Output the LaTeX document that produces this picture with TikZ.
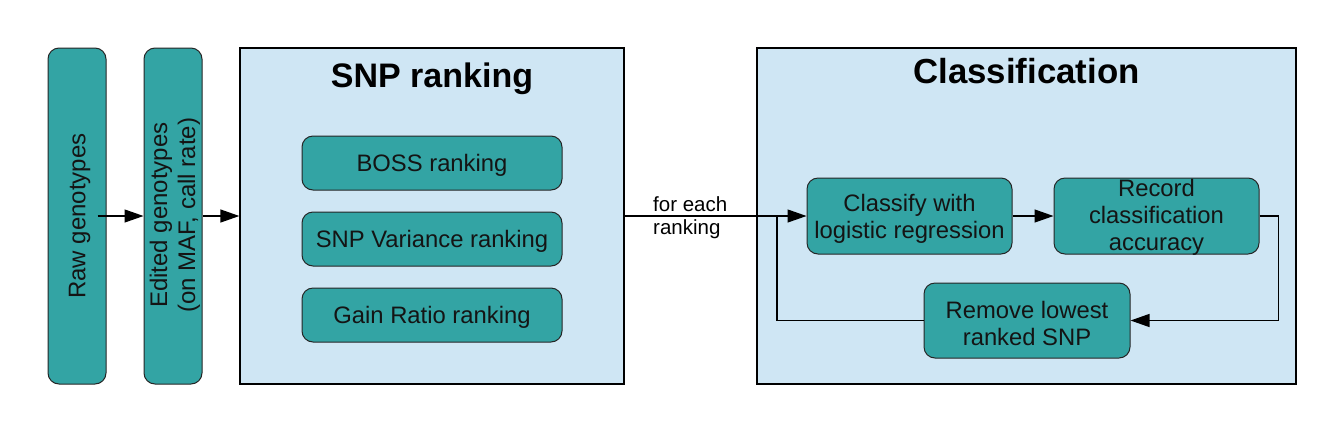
\documentclass[tikz,border=0pt]{standalone}
\usepackage{fontspec}
\setmainfont{Liberation Sans}
\usetikzlibrary{arrows.meta}
\definecolor{teal1}{RGB}{51,164,164}
\definecolor{lblue}{RGB}{207,230,244}
\definecolor{txt}{RGB}{20,20,20}
\tikzset{
  panel/.style={draw=black, line width=1.3pt, fill=lblue, rectangle, inner sep=0pt},
  tbox/.style={draw=black!85, line width=1pt, fill=teal1, rectangle, rounded corners=11pt, inner sep=0pt},
  btxt/.style={align=center, text=txt, inner sep=0pt, font=\fontsize{23.8}{27}\selectfont},
  bar/.style={tbox, minimum width=58pt, minimum height=336pt},
  title/.style={font=\fontsize{34}{40}\selectfont\bfseries, anchor=base},
  conn/.style={draw=black, line width=1.3pt, -{Triangle[length=19pt,width=13pt]}},
  plain/.style={draw=black, line width=1.3pt},
  lbl/.style={font=\fontsize{20.5}{22.5}\selectfont, align=left, anchor=north west, inner sep=0pt}
}
\begin{document}
\begin{tikzpicture}[x=1pt,y=-1pt]
\useasboundingbox (0,0) rectangle (1344,432);
\node[bar] (raw) at (77,216) {};
\node[btxt, rotate=90, font=\fontsize{24}{27}\selectfont] (rawt) at (79.5,216) {Raw genotypes};
\node[bar] (edited) at (173,216) {};
\node[btxt, rotate=90, font=\fontsize{24}{28}\selectfont] (editedt) at (175,215) {Edited genotypes\\(on MAF, call rate)};
\node[panel, minimum width=384pt, minimum height=336pt] (snp) at (432,216) {};
\node[title] (snpt) at (432,87) {SNP ranking};
\node[tbox, minimum width=260pt, minimum height=54pt] (boss) at (432,163) {};
\node[btxt] (bosst) at ([yshift=-2.5pt]boss.center) {BOSS ranking};
\node[tbox, minimum width=260pt, minimum height=54pt] (var) at (432,239) {};
\node[btxt] (vart) at ([yshift=-2.5pt]var.center) {SNP Variance ranking};
\node[tbox, minimum width=260pt, minimum height=54pt] (gain) at (432,315) {};
\node[btxt] (gaint) at ([yshift=-2.5pt]gain.center) {Gain Ratio ranking};
\node[panel, minimum width=539pt, minimum height=336pt] (cls) at (1026.5,216) {};
\node[title, font=\fontsize{34.8}{40}\selectfont\bfseries] (clst) at (1026.5,83) {Classification};
\node[tbox, minimum width=205pt, minimum height=76pt] (classify) at (909.5,216) {};
\node[btxt] (classifyt) at ([yshift=-2.5pt]classify.center) {Classify with\\logistic regression};
\node[tbox, minimum width=205pt, minimum height=76pt] (record) at (1156.5,216) {};
\node[btxt] (recordt) at ([yshift=-1.5pt]record.center) {Record\\classification\\accuracy};
\node[tbox, minimum width=206pt, minimum height=75pt] (remove) at (1027,320.5) {};
\node[btxt] (removet) at ([yshift=-2.5pt]remove.center) {Remove lowest\\ranked SNP};
\draw[conn] ([xshift=-9pt]raw.east) -- (edited.west);
\draw[conn] (edited.east) -- (snp.west);
\draw[conn] (snp.east) -- (classify.west);
\node[lbl] (each) at (653,196.5) {for each\\ranking};
\draw[conn] (classify.east) -- (record.west);
\coordinate (j) at (777,216);
\draw[plain] (remove.west) -| (j);
\draw[conn] (record.east) -- ++(19,0) |- (remove.east);
\end{tikzpicture}
\end{document}
